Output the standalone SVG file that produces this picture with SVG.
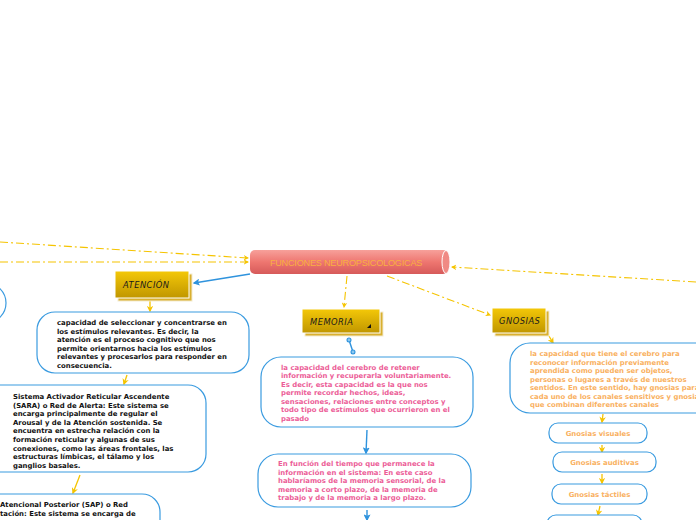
<svg xmlns="http://www.w3.org/2000/svg" width="696" height="520" viewBox="0 0 696 520">
<defs>
<linearGradient id="gold" x1="0" y1="0" x2="0" y2="1"><stop offset="0" stop-color="#f4c808"/><stop offset="1" stop-color="#c09600"/></linearGradient>
<linearGradient id="red" x1="0" y1="0" x2="0" y2="1"><stop offset="0" stop-color="#f7a09a"/><stop offset="0.5" stop-color="#ee7670"/><stop offset="1" stop-color="#d65a5a"/></linearGradient>
<marker id="ya" viewBox="0 0 10 10" refX="8" refY="5" markerWidth="5" markerHeight="5" orient="auto"><path d="M0,0 L10,5 L0,10 L3,5 Z" fill="#f5c400"/></marker>
<marker id="ba" viewBox="0 0 10 10" refX="8" refY="5" markerWidth="5" markerHeight="5" orient="auto"><path d="M0,0 L10,5 L0,10 L2,5 Z" fill="#2f93dd"/></marker>
<marker id="bd" viewBox="0 0 10 10" refX="5" refY="5" markerWidth="4" markerHeight="4"><circle cx="5" cy="5" r="3.5" fill="#8cc8f0" stroke="#2f93dd" stroke-width="2"/></marker>
</defs>
<style>
.box{fill:#fff;stroke:#3a9be0;stroke-width:1.2}
.t{font-family:"DejaVu Sans",Verdana,sans-serif;font-weight:bold;font-size:6.9px}
.k{fill:#111}
.p{fill:#ec5d97}
.o{fill:#f9b060}
.gb{fill:url(#gold);stroke:#fff;stroke-width:1}
.gs{fill:#d9b030;stroke:#f3ebd0;stroke-width:1}
.lab{font-family:"DejaVu Sans",sans-serif;font-style:italic;font-size:8.3px;fill:#1a1a1a;letter-spacing:0.5px}
.dy{fill:none;stroke:#f5c400;stroke-width:1.1;stroke-dasharray:8,3,2,3}
.ay{fill:none;stroke:#f5c400;stroke-width:1.3}
.bl{fill:none;stroke:#2f93dd;stroke-width:1.4}
</style>
<g id="connectors">
<path class="dy" d="M0,242 L248,258" marker-end="url(#ya)"/>
<path class="dy" d="M0,262 L248,262" marker-end="url(#ya)"/>
<path class="dy" d="M696,282 L452,267" marker-end="url(#ya)"/>
<path class="bl" d="M250,274 L194,283" marker-end="url(#ba)"/>
<path class="ay" d="M150,301 L150,311" marker-end="url(#ya)"/>
<path class="ay" d="M127,375 L124,384" marker-end="url(#ya)"/>
<path class="ay" d="M80,475 L73,493" marker-end="url(#ya)"/>
<path class="dy" d="M347,276 L344,307" marker-end="url(#ya)"/>
<path class="bl" d="M349,340 L353,352" marker-start="url(#bd)" marker-end="url(#bd)"/>
<path class="bl" d="M367,430 L366,453" marker-end="url(#ba)"/>
<path class="bl" d="M367,510 L367,520" marker-end="url(#ba)"/>
<path class="dy" d="M387,276 L490,315" marker-end="url(#ya)"/>
<path class="ay" d="M549,336 L553,343" marker-end="url(#ya)"/>
<path class="ay" d="M603,414 L602,422" marker-end="url(#ya)"/>
<path class="ay" d="M602,445 L602,452" marker-end="url(#ya)"/>
<path class="ay" d="M602,474 L602,483" marker-end="url(#ya)"/>
<path class="ay" d="M600,506 L598,515" marker-end="url(#ya)"/>
</g>
<g id="central">
<rect x="250" y="250" width="198" height="24" rx="5" fill="url(#red)"/>
<ellipse cx="446" cy="262" rx="4" ry="11.5" fill="#f08a84" stroke="#fff" stroke-width="1"/>
<text x="346" y="265.5" text-anchor="middle" font-family="Liberation Sans,Arial,sans-serif" font-size="9.1" fill="#f9b040" letter-spacing="-0.2">FUNCIONES NEUROPSICOLOGICAS</text>
</g>
<g id="circle-left"><circle cx="-14" cy="303" r="20" class="box"/></g>
<g id="atencion">
<rect x="118" y="274" width="74" height="27" class="gs"/>
<rect x="115" y="271" width="74" height="27" class="gb"/>
<text x="123" y="288" class="lab">ATENCIÓN</text>
</g>
<g id="atencion-def">
<rect x="37" y="312" width="212" height="61" rx="18" class="box"/>
<text class="t k"><tspan x="57" y="325"> capacidad de seleccionar y concentrarse en</tspan><tspan x="57" y="333.6">los estímulos relevantes. Es decir, la</tspan><tspan x="57" y="342.2">atención es el proceso cognitivo que nos</tspan><tspan x="57" y="350.8">permite orientarnos hacia los estímulos</tspan><tspan x="57" y="359.4">relevantes y procesarlos para responder en</tspan><tspan x="57" y="368">consecuencia.</tspan></text>
</g>
<g id="sara">
<rect x="-20" y="385" width="226" height="87" rx="18" class="box"/>
<text class="t k"><tspan x="13" y="399">Sistema Activador Reticular Ascendente</tspan><tspan x="13" y="407.6">(SARA) o Red de Alerta: Este sistema se</tspan><tspan x="13" y="416.2">encarga principalmente de regular el</tspan><tspan x="13" y="424.8">Arousal y de la Atención sostenida. Se</tspan><tspan x="13" y="433.4">encuentra en estrecha relación con la</tspan><tspan x="13" y="442">formación reticular y algunas de sus</tspan><tspan x="13" y="450.6">conexiones, como las áreas frontales, las</tspan><tspan x="13" y="459.2">estructuras límbicas, el tálamo y los</tspan><tspan x="13" y="467.8">ganglios basales.</tspan></text>
</g>
<g id="sap">
<rect x="-30" y="494" width="190" height="60" rx="18" class="box"/>
<text class="t k"><tspan x="0" y="507">Atencional Posterior (SAP) o Red</tspan><tspan x="0" y="515.6">tación: Este sistema se encarga de</tspan></text>
</g>
<g id="memoria">
<rect x="305" y="312" width="78" height="24" class="gs"/>
<rect x="302" y="309" width="78" height="24" class="gb"/>
<text x="310" y="325" class="lab">MEMORIA</text>
<path d="M371,324 L371,328 L367,328 Z" fill="#111"/>
</g>
<g id="memoria-def">
<rect x="261" y="357" width="212" height="70" rx="20" class="box"/>
<text class="t p"><tspan x="281" y="369.5"> la capacidad del cerebro de retener</tspan><tspan x="281" y="378">información y recuperarla voluntariamente.</tspan><tspan x="281" y="386.5">Es decir, esta capacidad es la que nos</tspan><tspan x="281" y="395">permite recordar hechos, ideas,</tspan><tspan x="281" y="403.5">sensaciones, relaciones entre conceptos y</tspan><tspan x="281" y="412">todo tipo de estímulos que ocurrieron en el</tspan><tspan x="281" y="420.5">pasado</tspan></text>
</g>
<g id="memoria-tiempo">
<rect x="258" y="454" width="213" height="53" rx="20" class="box"/>
<text class="t p"><tspan x="278" y="466">En función del tiempo que permanece la</tspan><tspan x="278" y="474.6">información en el sistema: En este caso</tspan><tspan x="278" y="483.2">hablaríamos de la memoria sensorial, de la</tspan><tspan x="278" y="491.8">memoria a corto plazo, de la memoria de</tspan><tspan x="278" y="500.4">trabajo y de la memoria a largo plazo.</tspan></text>
</g>
<g id="gnosias">
<rect x="495" y="311" width="54" height="25" class="gs"/>
<rect x="492" y="308" width="54" height="25" class="gb"/>
<text x="499" y="324" class="lab">GNOSIAS</text>
</g>
<g id="gnosias-def">
<rect x="510" y="343" width="210" height="70" rx="20" class="box"/>
<text class="t o"><tspan x="530" y="356"> la capacidad que tiene el cerebro para</tspan><tspan x="530" y="364.5">reconocer información previamente</tspan><tspan x="530" y="373">aprendida como pueden ser objetos,</tspan><tspan x="530" y="381.5">personas o lugares a través de nuestros</tspan><tspan x="530" y="390">sentidos. En este sentido, hay gnosias para</tspan><tspan x="530" y="398.5">cada uno de los canales sensitivos y gnosias</tspan><tspan x="530" y="407">que combinan diferentes canales</tspan></text>
</g>
<g id="gn-visuales">
<rect x="549" y="423" width="98" height="20" rx="9" class="box"/>
<text x="598" y="436" text-anchor="middle" class="t o">Gnosias visuales</text>
</g>
<g id="gn-auditivas">
<rect x="553" y="452" width="103" height="20" rx="9" class="box"/>
<text x="604.5" y="465" text-anchor="middle" class="t o">Gnosias auditivas</text>
</g>
<g id="gn-tactiles">
<rect x="552" y="484" width="95" height="20" rx="9" class="box"/>
<text x="599.5" y="497" text-anchor="middle" class="t o">Gnosias táctiles</text>
</g>
<g id="gn-next">
<rect x="547" y="515" width="95" height="20" rx="9" class="box"/>
</g>
</svg>
